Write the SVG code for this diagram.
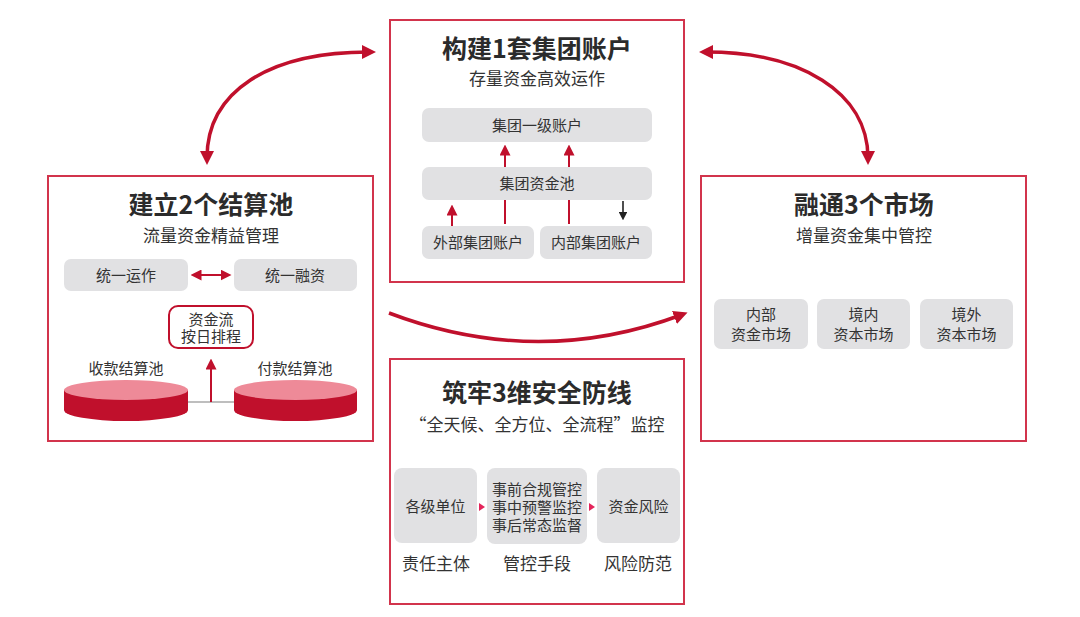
<svg xmlns="http://www.w3.org/2000/svg" width="1080" height="617" viewBox="0 0 1080 617">
<style>
text{font-family:"Noto Sans CJK SC","Noto Sans",sans-serif;fill:#333;text-anchor:middle}
.frame{fill:#fff;stroke:#d2344c;stroke-width:2}
.gb{fill:#e1e1e3}
.t{font-size:25px;font-weight:700;fill:#2b2b2b}
.s{font-size:17px}
.b{font-size:15px}
.l{font-size:17px}
.arc{fill:none;stroke:#c0102c;stroke-width:3.5}
.thin{stroke:#c0102c;stroke-width:2;fill:none}
</style>
<defs>
<marker id="ah" viewBox="0 0 10 10" refX="5" refY="5" markerWidth="4" markerHeight="4" orient="auto-start-reverse" markerUnits="strokeWidth"><path d="M0,0 L10,5 L0,10 z" fill="#c0102c"/></marker>
<marker id="sh" viewBox="0 0 10 10" refX="5" refY="5" markerWidth="5.5" markerHeight="5.5" orient="auto-start-reverse" markerUnits="strokeWidth"><path d="M0,0 L10,5 L0,10 z" fill="#c0102c"/></marker>
<marker id="kh" viewBox="0 0 10 10" refX="5" refY="5" markerWidth="5.5" markerHeight="5.5" orient="auto" markerUnits="strokeWidth"><path d="M0,0 L10,5 L0,10 z" fill="#222"/></marker>
</defs>

<g id="box-account">
<rect class="frame" x="390" y="20" width="294" height="262"/>
<text class="t" x="537" y="58">构建1套集团账户</text>
<text class="s" x="537" y="85">存量资金高效运作</text>
<rect class="gb" x="422" y="108" width="230" height="34" rx="7"/>
<text class="b" x="537" y="131">集团一级账户</text>
<rect class="gb" x="422" y="167" width="230" height="33" rx="7"/>
<text class="b" x="537" y="189">集团资金池</text>
<rect class="gb" x="422" y="226" width="112" height="33" rx="7"/>
<text class="b" x="478" y="248">外部集团账户</text>
<rect class="gb" x="540" y="226" width="112" height="33" rx="7"/>
<text class="b" x="596" y="248">内部集团账户</text>
</g>

<g id="box-pools">
<rect class="frame" x="48" y="176" width="325" height="265"/>
<text class="t" x="211" y="214">建立2个结算池</text>
<text class="s" x="211" y="242">流量资金精益管理</text>
<rect class="gb" x="64" y="259" width="124" height="32" rx="7"/>
<text class="b" x="126" y="281">统一运作</text>
<rect class="gb" x="234" y="259" width="123" height="32" rx="7"/>
<text class="b" x="295" y="281">统一融资</text>
<rect x="169" y="306" width="84" height="42" rx="9" fill="#fff" stroke="#c0102c" stroke-width="2"/>
<text class="b"><tspan x="211" y="325">资金流</tspan><tspan x="211" y="342">按日排程</tspan></text>
<text class="b" x="126" y="374">收款结算池</text>
<text class="b" x="295" y="374">付款结算池</text>
<path d="M64,390 V410 A62,11 0 0 0 188,410 V390 z" fill="#c0102c"/>
<ellipse cx="126" cy="390" rx="62" ry="10" fill="#ee8a98"/>
<path d="M234,390 V410 A61.5,11 0 0 0 357,410 V390 z" fill="#c0102c"/>
<ellipse cx="295.5" cy="390" rx="61.5" ry="10" fill="#ee8a98"/>
</g>

<g id="box-markets">
<rect class="frame" x="701" y="176" width="325" height="265"/>
<text class="t" x="864" y="214">融通3个市场</text>
<text class="s" x="864" y="242">增量资金集中管控</text>
<rect class="gb" x="714" y="299" width="94" height="50" rx="7"/>
<text class="b"><tspan x="761" y="320">内部</tspan><tspan x="761" y="340">资金市场</tspan></text>
<rect class="gb" x="817" y="299" width="93" height="50" rx="7"/>
<text class="b"><tspan x="863.5" y="320">境内</tspan><tspan x="863.5" y="340">资本市场</tspan></text>
<rect class="gb" x="920" y="299" width="93" height="50" rx="7"/>
<text class="b"><tspan x="966.5" y="320">境外</tspan><tspan x="966.5" y="340">资本市场</tspan></text>
</g>

<g id="box-defense">
<rect class="frame" x="390" y="359" width="294" height="245"/>
<text class="t" x="537" y="402">筑牢3维安全防线</text>
<text class="s" x="537" y="431">“全天候、全方位、全流程”监控</text>
<rect class="gb" x="394" y="468" width="83" height="75" rx="8"/>
<text class="b" x="435.5" y="512">各级单位</text>
<rect class="gb" x="487" y="468" width="100" height="76" rx="8"/>
<text class="b"><tspan x="537" y="495">事前合规管控</tspan><tspan x="537" y="513">事中预警监控</tspan><tspan x="537" y="531">事后常态监督</tspan></text>
<rect class="gb" x="597" y="468" width="83" height="75" rx="8"/>
<text class="b" x="638.5" y="512">资金风险</text>
<text class="l" x="436" y="570">责任主体</text>
<text class="l" x="537" y="570">管控手段</text>
<text class="l" x="638" y="570">风险防范</text>
<path d="M479,503 L485,507 L479,511 z" fill="#e4245a"/>
<path d="M589,503 L595,507 L589,511 z" fill="#e4245a"/>
</g>

<g id="connectors">
<path class="arc" d="M207,158 C207,92 268,52 369,52" marker-start="url(#ah)" marker-end="url(#ah)"/>
<path class="arc" d="M706,52 C800,52 868,92 868,158" marker-start="url(#ah)" marker-end="url(#ah)"/>
<path class="arc" d="M389,313 Q537,369 681,315" marker-end="url(#ah)"/>
<line class="thin" x1="505" y1="167" x2="505" y2="150" marker-end="url(#sh)"/>
<line class="thin" x1="569" y1="167" x2="569" y2="150" marker-end="url(#sh)"/>
<line class="thin" x1="452" y1="226" x2="452" y2="210" marker-end="url(#sh)"/>
<line class="thin" x1="505" y1="224" x2="505" y2="200"/>
<line class="thin" x1="569" y1="224" x2="569" y2="200"/>
<line x1="623" y1="201" x2="623" y2="216" stroke="#222" stroke-width="1.6" marker-end="url(#kh)"/>
<line x1="196" y1="275" x2="226" y2="275" class="thin" marker-start="url(#sh)" marker-end="url(#sh)"/>
<line x1="188" y1="402" x2="234" y2="402" stroke="#a8a8a8" stroke-width="1.5"/>
<line class="thin" x1="211" y1="402" x2="211" y2="364" marker-end="url(#sh)"/>
</g>
</svg>
